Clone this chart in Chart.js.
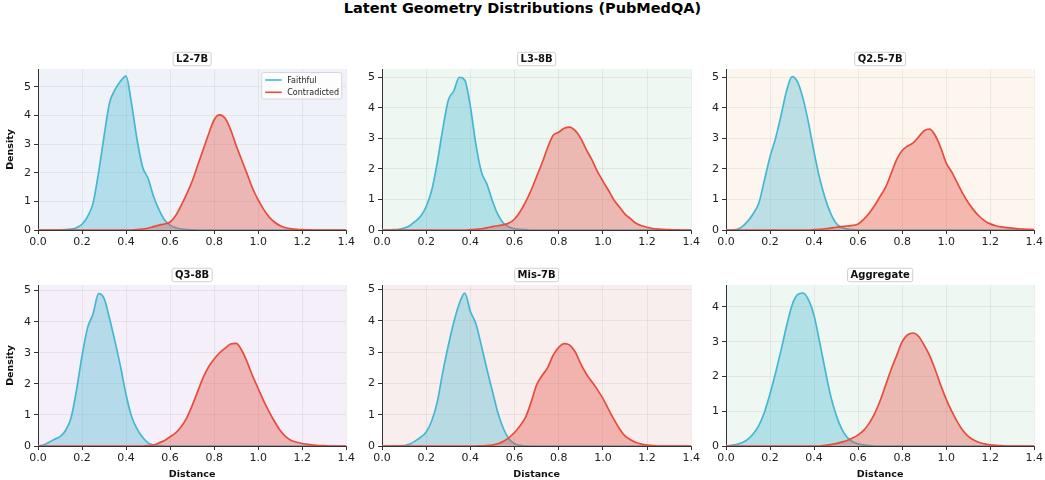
<!DOCTYPE html>
<html><head><meta charset="utf-8">
<script src="https://cdn.jsdelivr.net/npm/chart.js@4.4.1/dist/chart.umd.min.js"></script>
<style>
html,body{margin:0;padding:0;background:#fff;width:1045px;height:480px;overflow:hidden;position:relative;}
#title{position:absolute;left:0;top:0;width:1045px;text-align:center;font:bold 14.5px 'DejaVu Sans';line-height:17px;color:#000;}
canvas{position:absolute;}
</style></head><body>
<div id="title">Latent Geometry Distributions (PubMedQA)</div>
<script>
// ---- data ----
const xs = [0,0.025,0.05,0.075,0.1,0.125,0.15,0.175,0.2,0.225,0.25,0.275,0.3,0.325,0.35,0.375,0.4,0.425,0.45,0.475,0.5,0.525,0.55,0.575,0.6,0.625,0.65,0.675,0.7,0.725,0.75,0.775,0.8,0.825,0.85,0.875,0.9,0.925,0.95,0.975,1,1.025,1.05,1.075,1.1,1.125,1.15,1.175,1.2,1.225,1.25,1.275,1.3,1.325,1.35,1.375,1.4];
const xTicks = ['0.0','0.2','0.4','0.6','0.8','1.0','1.2','1.4'];
const panelTitles = ['L2-7B','L3-8B','Q2.5-7B','Q3-8B','Mis-7B','Aggregate'];
const seriesNames = ['Faithful','Contradicted'];
const yMax = [5.62,5.27,5.27,5.18,5.14,4.63];

const faithL2 = [0,0,0,0,0.005,0.01,0.03,0.08,0.2,0.47, 0.93,2.0,3.27,4.44,4.9,5.2,5.37,4.4,3.15,2.2, 1.8,1.17,0.7,0.35,0.17,0.08,0.03,0.01,0.005,0, 0,0,0,0,0,0,0,0,0,0, 0,0,0,0,0,0,0,0,0,0, 0,0,0,0,0,0,0];
const contrL2 = [0,0,0,0,0,0,0,0,0,0, 0,0,0,0,0,0,0,0,0.01,0.03, 0.06,0.12,0.17,0.21,0.28,0.5,0.85,1.25,1.7,2.25, 2.8,3.35,3.85,4.02,3.9,3.5,2.95,2.45,1.95,1.45, 1.05,0.72,0.45,0.27,0.15,0.08,0.04,0.02,0.01,0.005, 0,0,0,0,0,0,0];
const faithL3 = [0,0,0.01,0.02,0.06,0.14,0.28,0.45,0.77,1.3, 2.2,3.3,4.25,4.55,5.0,4.9,4.05,2.8,1.9,1.5, 0.95,0.5,0.22,0.1,0.04,0.02,0.01,0,0,0, 0,0,0,0,0,0,0,0,0,0, 0,0,0,0,0,0,0,0,0,0, 0,0,0,0,0,0,0];
const contrL3 = [0,0,0,0,0,0,0,0,0,0, 0,0,0,0,0,0,0.01,0.02,0.04,0.07, 0.11,0.14,0.17,0.23,0.36,0.6,0.92,1.3,1.75,2.2, 2.7,3.1,3.2,3.33,3.37,3.25,3.0,2.63,2.3,1.92, 1.6,1.3,0.98,0.75,0.52,0.37,0.22,0.14,0.09,0.05, 0.03,0.02,0.01,0.005,0,0,0];
const faithQ25 = [0,0,0.02,0.12,0.3,0.55,0.9,1.65,2.4,3.0, 3.75,4.55,5.02,4.85,4.3,3.5,2.55,1.7,1.05,0.55, 0.22,0.09,0.03,0.01,0,0,0,0,0,0, 0,0,0,0,0,0,0,0,0,0, 0,0,0,0,0,0,0,0,0,0, 0,0,0,0,0,0,0];
const contrQ25 = [0,0,0,0,0,0,0,0,0,0, 0,0,0,0,0,0,0.01,0.02,0.04,0.06, 0.09,0.11,0.13,0.15,0.2,0.35,0.55,0.8,1.1,1.4, 1.85,2.3,2.6,2.75,2.85,3.05,3.25,3.3,3.1,2.7, 2.2,1.9,1.55,1.2,0.9,0.65,0.45,0.3,0.2,0.14, 0.1,0.08,0.06,0.04,0.03,0.02,0.01];
const faithQ3 = [0,0.03,0.12,0.22,0.3,0.5,0.9,1.8,2.9,3.8, 4.25,4.9,4.75,4.1,3.35,2.55,1.65,0.95,0.55,0.28, 0.1,0.03,0.01,0,0,0,0,0,0,0, 0,0,0,0,0,0,0,0,0,0, 0,0,0,0,0,0,0,0,0,0, 0,0,0,0,0,0,0];
const contrQ3 = [0,0,0,0,0,0,0,0,0,0, 0,0,0,0,0,0,0,0,0,0, 0.01,0.03,0.1,0.18,0.3,0.42,0.62,0.9,1.3,1.75, 2.2,2.55,2.8,3.0,3.15,3.28,3.3,3.08,2.7,2.25, 1.85,1.45,1.1,0.78,0.5,0.3,0.18,0.12,0.08,0.05, 0.03,0.015,0.01,0,0,0,0];
const faithMis = [0,0,0,0.005,0.01,0.06,0.16,0.28,0.45,0.8, 1.4,2.35,3.2,3.95,4.55,4.88,4.3,3.9,3.2,2.45, 1.75,1.05,0.55,0.22,0.07,0.02,0.005,0,0,0, 0,0,0,0,0,0,0,0,0,0, 0,0,0,0,0,0,0,0,0,0, 0,0,0,0,0,0,0];
const contrMis = [0,0,0,0,0,0,0,0,0,0, 0,0,0,0,0,0,0,0,0.005,0.01, 0.03,0.07,0.15,0.27,0.43,0.65,0.92,1.4,1.95,2.25, 2.5,2.9,3.15,3.27,3.22,3.0,2.62,2.3,2.05,1.8, 1.52,1.18,0.85,0.55,0.32,0.2,0.11,0.06,0.03,0.01, 0,0,0,0,0,0,0];
const faithAgg = [0,0.02,0.05,0.1,0.2,0.36,0.6,0.98,1.5,2.1, 2.75,3.45,4.05,4.35,4.4,4.2,3.75,3.0,2.2,1.45, 0.9,0.5,0.25,0.12,0.06,0.03,0.01,0,0,0, 0,0,0,0,0,0,0,0,0,0, 0,0,0,0,0,0,0,0,0,0, 0,0,0,0,0,0,0];
const contrAgg = [0,0,0,0,0,0,0,0,0,0, 0,0,0,0,0,0,0,0,0.02,0.04, 0.07,0.11,0.16,0.23,0.32,0.45,0.65,0.93,1.3,1.75, 2.2,2.6,3.0,3.2,3.25,3.15,2.9,2.6,2.2,1.75, 1.35,1.0,0.7,0.45,0.28,0.17,0.1,0.06,0.03,0.02, 0.01,0,0,0,0,0,0];

const faithful = [faithL2, faithL3, faithQ25, faithQ3, faithMis, faithAgg];
const contradicted = [contrL2, contrL3, contrQ25, contrQ3, contrMis, contrAgg];

// ---- layout & style ----
const colL = [38, 382, 726], colR = [347, 692, 1035];
const rowT = [69, 285], rowB = [230, 446];
const PAD_TOP = 28, PAD_RIGHT = 10, Y_W = 38, X_H = 34;
const bgColors = ['#eff2f9', '#eef7f2', '#fdf6ef', '#f4eff9', '#f9eeee', '#eef7f2'];
const lineColors = ['#45B7D1', '#E74C3C'];
const fillColors = ['rgba(69,183,209,0.36)', 'rgba(231,76,60,0.36)'];
const FONT = "'DejaVu Sans'";

function deco(i) {
  return {
    id: 'deco' + i,
    beforeDraw(chart) {
      const {ctx, chartArea: a} = chart;
      ctx.save();
      ctx.fillStyle = bgColors[i];
      ctx.fillRect(a.left, a.top, a.right - a.left, a.bottom - a.top);
      ctx.restore();
    },
    afterDraw(chart) {
      const {ctx, chartArea: a} = chart;
      ctx.save();
      // subplot title box
      ctx.font = 'bold 10px ' + FONT;
      const t = panelTitles[i];
      const tw = ctx.measureText(t).width;
      const cx = (a.left + a.right) / 2, cy = a.top - 10;
      const bw = tw + 6, bh = 13.5;
      ctx.beginPath();
      ctx.roundRect(cx - bw / 2, cy - bh / 2, bw, bh, 2);
      ctx.fillStyle = '#ffffff';
      ctx.fill();
      ctx.strokeStyle = '#cfcfcf';
      ctx.lineWidth = 1;
      ctx.stroke();
      ctx.fillStyle = '#111';
      ctx.textAlign = 'center';
      ctx.textBaseline = 'middle';
      ctx.fillText(t, cx, cy + 0.5);
      // legend on first panel
      if (i === 0) {
        const lx = a.right - 84.5, ly = a.top + 3.5, lw = 80, lh = 26.5;
        ctx.beginPath();
        ctx.roundRect(lx, ly, lw, lh, 2);
        ctx.fillStyle = 'rgba(255,255,255,0.85)';
        ctx.fill();
        ctx.strokeStyle = '#d6d6d6';
        ctx.stroke();
        ctx.font = '8px ' + FONT;
        ctx.textAlign = 'left';
        seriesNames.forEach((n, k) => {
          const y = ly + 7.5 + k * 12.3;
          ctx.strokeStyle = lineColors[k];
          ctx.lineWidth = 1.6;
          ctx.beginPath();
          ctx.moveTo(lx + 3.5, y);
          ctx.lineTo(lx + 20, y);
          ctx.stroke();
          ctx.fillStyle = '#222';
          ctx.fillText(n, lx + 25.5, y + 0.5);
        });
      }
      ctx.restore();
    }
  };
}

for (let i = 0; i < 6; i++) {
  const row = Math.floor(i / 3), col = i % 3;
  const L = colL[col], R = colR[col], T = rowT[row], B = rowB[row];
  const cv = document.createElement('canvas');
  const w = R - L + Y_W + PAD_RIGHT, h = B - T + PAD_TOP + X_H;
  cv.width = w; cv.height = h;
  cv.style.left = (L - Y_W) + 'px';
  cv.style.top = (T - PAD_TOP) + 'px';
  cv.style.width = w + 'px'; cv.style.height = h + 'px';
  document.body.appendChild(cv);

  const mk = (arr) => xs.map((x, j) => ({x: x, y: arr[j]}));
  const datasets = [faithful[i], contradicted[i]].map((arr, k) => ({
    label: seriesNames[k],
    data: mk(arr),
    borderColor: lineColors[k],
    backgroundColor: fillColors[k],
    borderWidth: 1.7,
    pointRadius: 0,
    fill: 'origin',
    cubicInterpolationMode: 'monotone',
    order: 1 - k
  }));

  const gridCfg = {color: 'rgba(120,120,120,0.14)', lineWidth: 0.8, tickColor: '#333', tickLength: 4, tickWidth: 1};
  new Chart(cv, {
    type: 'line',
    data: {datasets},
    options: {
      responsive: false,
      animation: false,
      devicePixelRatio: 1,
      layout: {padding: {top: PAD_TOP, right: PAD_RIGHT, left: 0, bottom: 0}},
      plugins: {legend: {display: false}, tooltip: {enabled: false}, title: {display: false}},
      scales: {
        x: {
          type: 'linear', min: 0, max: 1.4,
          afterBuildTicks: (s) => { s.ticks = xTicks.map(v => ({value: parseFloat(v)})); },
          ticks: {callback: (v) => xTicks.find(t => Math.abs(parseFloat(t) - v) < 1e-6) || '', font: {family: 'DejaVu Sans', size: 11}, color: '#222', padding: 2, maxRotation: 0, autoSkip: false},
          grid: gridCfg,
          border: {display: true, color: '#333', width: 1},
          title: {display: row === 1, text: 'Distance', font: {family: 'DejaVu Sans', size: 9.5, weight: 'bold'}, color: '#111', padding: {top: 0, bottom: 0}},
          afterFit: (s) => { s.height = X_H; }
        },
        y: {
          type: 'linear', min: 0, max: yMax[i],
          ticks: {stepSize: 1, includeBounds: false, font: {family: 'DejaVu Sans', size: 11}, color: '#222', padding: 3},
          grid: gridCfg,
          border: {display: true, color: '#333', width: 1},
          title: {display: col === 0, text: 'Density', font: {family: 'DejaVu Sans', size: 9.5, weight: 'bold'}, color: '#111', padding: {top: 5, bottom: 0}},
          afterFit: (s) => { s.width = Y_W; }
        }
      }
    },
    plugins: [deco(i)]
  });
}
</script>
</body></html>
